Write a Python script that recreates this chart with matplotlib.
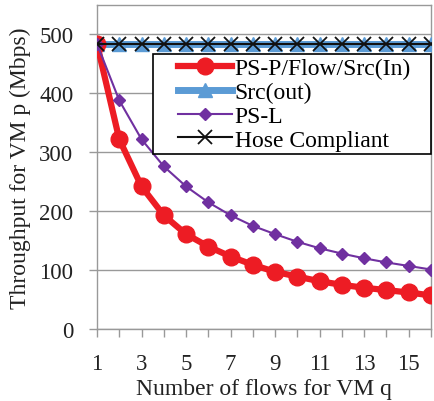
import matplotlib
matplotlib.use("Agg")
import matplotlib.pyplot as plt
from matplotlib.patches import Rectangle

q = list(range(1, 17))
ps_p = [484, 322, 242, 193, 161, 140, 123, 109, 97, 89, 81, 75, 70, 66, 62, 57]
src_out = [484] * 16
ps_l = [484, 388, 322, 276, 242, 215, 193, 175, 161, 148, 137, 128, 120, 113, 107, 101]
hose = [484] * 16

plt.rcParams['font.family'] = ['Liberation Serif', 'DejaVu Serif']

fig = plt.figure(figsize=(4.35, 4.02), dpi=100)
ax = fig.add_axes([97/435, 72/402, 334/435, 324/402])

ax.plot(q, ps_p, color='#ED1C24', lw=4.5, marker='o', ms=12, label='PS-P/Flow/Src(In)', zorder=4)
ax.plot(q, src_out, color='#5B9BD5', lw=5, marker='^', ms=10, label='Src(out)', zorder=3)
ax.plot(q, ps_l, color='#7030A0', lw=1.5, marker='D', ms=6, label='PS-L', zorder=5)
ax.plot(q, hose, color='#111111', lw=1.5, marker='x', ms=10, mew=1.3, label='Hose Compliant', zorder=6)

ax.set_xlim(1, 16)
ax.set_ylim(0, 550)
ax.set_xticks(q)
ax.set_xticklabels([str(v) if v % 2 == 1 else '' for v in q])
ax.set_yticks([0, 100, 200, 300, 400, 500])
ax.grid(axis='y', color='#999999', lw=1)
ax.set_axisbelow(True)
for s in ax.spines.values():
    s.set_color('#999999')
    s.set_linewidth(1)
ax.tick_params(axis='both', colors='#999999', labelcolor='#222222', labelsize=16.5, length=6, width=1)
ax.tick_params(axis='x', pad=11)
ax.tick_params(axis='y', pad=11)

ax.set_xlabel('Number of flows for VM q', fontsize=17, color='#222222', labelpad=3)
ax.set_ylabel('Throughput for VM p (Mbps)', fontsize=17, color='#222222', labelpad=6)

# legend frame
frame = Rectangle((0.1677, 0.540), 0.8323, 0.309, transform=ax.transAxes,
                  facecolor='white', edgecolor='black', lw=1.2, zorder=9, clip_on=False)
ax.add_patch(frame)

leg = ax.legend(loc='upper left', bbox_to_anchor=(0.2425, 0.838), fontsize=17, frameon=False,
                handlelength=2.3, handletextpad=0.1, labelspacing=0.1, borderpad=0,
                borderaxespad=0)
leg.set_zorder(10)

fig.savefig('out.png', dpi=100)
